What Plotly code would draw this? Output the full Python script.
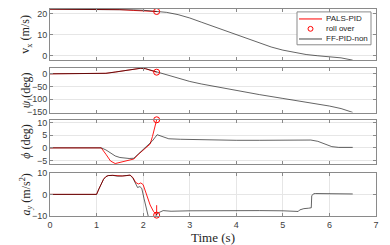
import plotly.graph_objects as go

# ---------------- data ----------------
# Panel 1: longitudinal speed v_x (m/s)
t_vx_ff = [0, 1.0, 1.3, 1.5, 1.8, 2.0, 2.3, 2.5, 2.75, 3.0, 3.25, 3.5, 3.75, 4.0, 4.25, 4.5,
           4.75, 5.0, 5.25, 5.5, 5.75, 6.0, 6.25, 6.5]
vx_ff = [22.2, 22.2, 22.2, 22.1, 21.9, 21.7, 21.3, 20.7, 19.6, 18.0, 16.0, 14.0, 12.0, 10.0,
         8.0, 6.0, 4.1, 2.6, 1.4, 0.5, -0.1, -0.5, -1.1, -2.2]
t_vx_pals = [0, 1.0, 1.3, 1.5, 1.8, 2.0, 2.15, 2.29]
vx_pals = [22.2, 22.2, 22.2, 22.0, 21.6, 21.3, 21.15, 21.1]

# Panel 2: yaw angle psi (deg)
t_psi_ff = [0, 1.05, 1.2, 1.4, 1.6, 1.8, 1.95, 2.05, 2.15, 2.3, 2.5, 2.75, 3.0, 3.25, 3.5,
            3.75, 4.0, 4.5, 5.0, 5.5, 6.0, 6.25, 6.5]
psi_ff = [0, 0, 2, 7, 13, 19, 22, 20.5, 15, 6, -5, -18, -30, -40, -49, -58, -66, -82, -97,
          -111, -127, -137, -152]
t_psi_pals = [0, 1.05, 1.2, 1.4, 1.6, 1.8, 1.95, 2.05, 2.15, 2.29]
psi_pals = [0, 0, 2, 7, 13, 19, 22, 20, 14, 6.5]

# Panel 3: roll angle phi (deg)
t_phi_ff = [0, 1.1, 1.2, 1.3, 1.4, 1.5, 1.6, 1.7, 1.8, 1.9, 2.0, 2.1, 2.2, 2.3, 2.4, 2.55,
            2.8, 3.2, 3.6, 4.0, 4.5, 5.0, 5.5, 5.6, 5.75, 5.9, 6.05, 6.2, 6.5]
phi_ff = [0, 0, -0.8, -2.0, -3.2, -3.8, -4.1, -4.2, -4.1, -2.4, -0.5, 0.8, 2.8, 5.2, 4.5,
          3.6, 3.4, 3.2, 3.1, 3.0, 3.0, 3.1, 3.2, 3.1, 2.6, 1.5, 0.5, 0.2, 0.2]
t_phi_pals = [0, 1.1, 1.2, 1.3, 1.4, 1.5, 1.6, 1.7, 1.8, 1.9, 2.0, 2.1, 2.15, 2.2, 2.25, 2.29]
phi_pals = [0, 0, -2.5, -5.2, -6.2, -5.8, -5.2, -4.8, -4.4, -2.5, -0.9, 0.5, 1.5, 4.5, 8.0, 11.1]

# Panel 4: lateral acceleration a_y (m/s^2)
t_ay_ff = [0, 1.0, 1.05, 1.1, 1.15, 1.2, 1.25, 1.35, 1.45, 1.55, 1.65, 1.72, 1.78, 1.84,
           1.88, 1.93, 1.97, 2.02, 2.06, 2.11, 2.16, 2.24, 2.28, 2.32, 2.43, 2.6, 3.0, 3.5,
           4.0, 4.5, 5.0, 5.33, 5.36, 5.45, 5.55, 5.61, 5.62, 5.66, 5.7, 6.0, 6.5]
ay_ff = [0, 0, 2.5, 5.0, 7.0, 8.2, 8.7, 8.8, 8.4, 8.5, 8.8, 8.9, 7.5, 4.8, 3.2, 3.6, 2.8,
         -2.0, -6.5, -10.2, -13, -13, -9.6, -8.6, -7.5, -7.8, -7.6, -7.5, -7.4, -7.5, -7.6,
         -7.9, -7.2, -6.6, -6.4, -6.2, -0.7, 0.3, 0.4, 0.3, 0.2]
t_ay_pals = [0, 1.0, 1.05, 1.1, 1.15, 1.2, 1.25, 1.35, 1.45, 1.55, 1.65, 1.72, 1.78, 1.84,
             1.9, 1.95, 2.0, 2.04, 2.09, 2.15, 2.22, 2.27, 2.29, 2.29]
ay_pals = [0, 0, 2.5, 5.0, 7.0, 8.2, 8.7, 8.8, 8.5, 8.5, 8.7, 8.9, 7.8, 5.5, 4.8, 5.3, 4.5,
           2.0, -0.5, -4.9, -7.8, -9.4, -9.6, -5.0]

# Roll-over event (time, value in each panel)
t_roll = 2.29
roll_vals = [21.1, 6.5, 11.1, -9.6]

x_ticks = [0, 1, 2, 3, 4, 5, 6, 7]
y_ticks = [[0, 10, 20], [0, -50, -100, -150], [-5, 0, 5, 10], [-10, 0, 10]]
y_ranges = [[-2.25, 22.3], [-152.5, 23], [-6.4, 11.2], [-10, 10]]
y_titles = ["v<sub>x</sub> (m/s)", "<i>ψ</i> (deg)", "<i>ϕ</i> (deg)",
            "<i>a<sub>y</sub></i> (m/s<sup>2</sup>)"]
legend_names = ["PALS-PID", "roll over", "FF-PID-non"]

# ---------------- figure ----------------
RED = "#ff0000"
BLK = "rgba(0,0,0,0.68)"
fig = go.Figure()

series = [
    (t_vx_pals, vx_pals, t_vx_ff, vx_ff),
    (t_psi_pals, psi_pals, t_psi_ff, psi_ff),
    (t_phi_pals, phi_pals, t_phi_ff, phi_ff),
    (t_ay_pals, ay_pals, t_ay_ff, ay_ff),
]
for i, (tp, yp, tf, yf) in enumerate(series):
    ax = "" if i == 0 else str(i + 1)
    fig.add_trace(go.Scatter(x=tp, y=yp, mode="lines", line=dict(color=RED, width=0.9),
                             xaxis="x" + ax, yaxis="y" + ax, showlegend=False,
                             name=legend_names[0]))
    fig.add_trace(go.Scatter(x=tf, y=yf, mode="lines", line=dict(color=BLK, width=0.9),
                             xaxis="x" + ax, yaxis="y" + ax, showlegend=False,
                             name=legend_names[2]))
    fig.add_trace(go.Scatter(x=[t_roll], y=[roll_vals[i]], mode="markers",
                             marker=dict(symbol="circle-open", size=6, color=RED,
                                         line=dict(width=1, color=RED)),
                             cliponaxis=False, xaxis="x" + ax, yaxis="y" + ax,
                             showlegend=False, name=legend_names[1]))

# panel pixel geometry (plot area 4..218 px tall)
domains = [[0.7523, 1.0], [0.500, 0.715], [0.2509, 0.4659], [0.0, 0.2089]]
AXC = "#8a8a8a"
GRID = "#e6e6e6"
tickfont = dict(family="Liberation Sans, Arial", size=9, color="#404040")
titlefont = dict(family="Liberation Serif, Times New Roman", size=12, color="#262626")

layout = dict(
    width=390, height=245,
    margin=dict(l=50, r=14, t=4, b=27),
    paper_bgcolor="white", plot_bgcolor="white",
    showlegend=False,
)
for i in range(4):
    ax = "" if i == 0 else str(i + 1)
    bottom = (i == 3)
    layout["xaxis" + ax] = dict(
        domain=[0, 1], range=[0, 7], anchor="y" + ax, tickvals=x_ticks,
        showticklabels=bottom, showgrid=bottom, gridcolor=GRID, gridwidth=1,
        zeroline=False, showline=True, linecolor=AXC, linewidth=1, mirror="ticks",
        ticks="inside", ticklen=3, tickcolor=AXC, tickfont=tickfont,
        title=dict(text="Time (s)" if bottom else "", font=dict(
            family="Liberation Serif, Times New Roman", size=13, color="#262626"),
            standoff=2),
    )
    if i > 0:
        layout["xaxis" + ax]["matches"] = "x"
    layout["yaxis" + ax] = dict(
        domain=domains[i], range=y_ranges[i], anchor="x" + ax, tickvals=y_ticks[i],
        showgrid=True, gridcolor=GRID, gridwidth=1, zeroline=False,
        showline=True, linecolor=AXC, linewidth=1, mirror="ticks",
        ticks="inside", ticklen=3, tickcolor=AXC, tickfont=tickfont,
    )
fig.update_layout(**layout)


def px_x(p):
    return (p - 50) / 326.0


def px_y(p):
    return (218 - p) / 214.0


annotations = []
# y-axis titles, placed beside each panel
for i in range(4):
    annotations.append(dict(text=y_titles[i], xref="paper", yref="paper",
                            x=px_x(26), y=(domains[i][0] + domains[i][1]) / 2,
                            xanchor="center", yanchor="middle", textangle=-90,
                            showarrow=False, font=titlefont))

# ---------------- legend box (paper coordinates, panel 1) ----------------
shapes = [dict(type="rect", xref="paper", yref="paper",
               x0=px_x(297), x1=px_x(371), y0=px_y(41), y1=px_y(7),
               line=dict(color="#8a8a8a", width=1), fillcolor="white", layer="above")]
rows = [14.3, 24.5, 35]
shapes.append(dict(type="line", xref="paper", yref="paper", x0=px_x(299), x1=px_x(322),
                   y0=px_y(rows[0]), y1=px_y(rows[0]), line=dict(color=RED, width=1),
                   layer="above"))
shapes.append(dict(type="circle", xref="paper", yref="paper",
                   x0=px_x(308), x1=px_x(313), y0=px_y(rows[1] + 2.5), y1=px_y(rows[1] - 2.5),
                   line=dict(color=RED, width=1), layer="above"))
shapes.append(dict(type="line", xref="paper", yref="paper", x0=px_x(299), x1=px_x(322),
                   y0=px_y(rows[2]), y1=px_y(rows[2]), line=dict(color="#444444", width=1),
                   layer="above"))
for name, r in zip(legend_names, rows):
    annotations.append(dict(text=name, xref="paper", yref="paper", x=px_x(323.5), y=px_y(r),
                            xanchor="left", yanchor="middle", showarrow=False,
                            font=dict(family="Liberation Sans, Arial", size=8, color="#262626")))
fig.update_layout(shapes=shapes, annotations=annotations)

fig.write_html("out.html", config={"displayModeBar": False},
               post_script="document.body.style.margin='0';")
